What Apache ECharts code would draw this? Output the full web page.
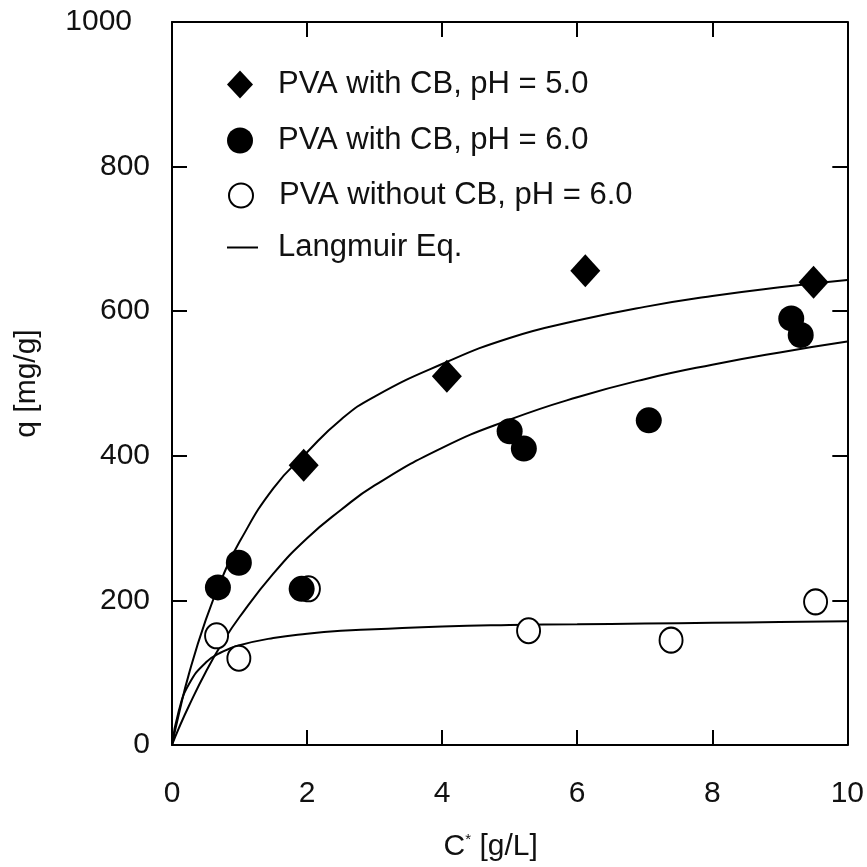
<!DOCTYPE html>
<html>
<head>
<meta charset="utf-8">
<script src="https://cdn.jsdelivr.net/npm/echarts@6/dist/echarts.min.js"></script>
<style>html,body{margin:0;padding:0;background:#fff}#c{width:867px;height:867px}</style>
</head>
<body>
<div id="c"></div>
<script>
// ---- data ----
const seriesNames = ['PVA with CB, pH = 5.0', 'PVA with CB, pH = 6.0', 'PVA without CB, pH = 6.0', 'Langmuir Eq.'];

const ph5X = [1.95, 4.07, 6.12, 9.50];
const ph5Q = [387, 510, 656, 640];

const ph6X = [0.68, 0.99, 1.92, 5.00, 5.21, 7.06, 9.17, 9.31];
const ph6Q = [218, 252, 216, 434, 410, 449, 590, 567];

const noCbX = [0.66, 0.99, 2.02, 5.28, 7.39, 9.53];
const noCbQ = [151, 120, 216, 158, 145, 198];

// Langmuir curves, read at these C* positions
const curveX    = [0, 0.1, 0.25, 0.5, 0.75, 1, 1.5, 2, 2.5, 3, 4, 5, 6, 7, 8, 9, 10];
const curvePh5  = [0, 42, 98, 173, 233, 281, 355, 405, 450, 482, 527, 563, 587, 606, 621, 633, 643];
const curvePh6  = [0, 23, 54, 101, 142, 177, 237, 286, 325, 359, 411, 450, 481, 506, 526, 543, 558];
const curveNoCb = [0, 47, 84, 114, 129, 138, 148, 154, 158, 160, 164, 166, 167, 168, 169, 170, 171];

const xMin = 0, xMax = 10, xStep = 2;
const yMin = 0, yMax = 1000, yStep = 200;

// ---- build ----
const pairs = (xs, ys) => xs.map((x, i) => [x, ys[i]]);
const FONT = '"Liberation Sans", Arial, Helvetica, sans-serif';
const INK = '#000';
const TXT = '#111';

const axisCommon = {
  type: 'value',
  axisLine: { show: true, onZero: false, lineStyle: { color: INK, width: 2 } },
  axisTick: { show: true, inside: true, length: 15, lineStyle: { color: INK, width: 2 } },
  splitLine: { show: false }
};

const lineSeries = (data) => ({
  type: 'line', name: seriesNames[3], data: data, showSymbol: false, symbol: 'none',
  smooth: 0.5,
  lineStyle: { color: INK, width: 2 }, itemStyle: { color: INK }, z: 2, silent: true
});

const legendRow = (item, top, w, h, pad, left) => ({
  data: [item], left: left, top: top, itemWidth: w, itemHeight: h, padding: 0,
  textStyle: { fontFamily: FONT, fontSize: 31, color: TXT, padding: [0, 0, 0, pad] },
  selectedMode: false
});

const option = {
  backgroundColor: '#fff',
  animation: false,
  grid: { left: 172, right: 15, top: 22, bottom: 119, containLabel: false },
  xAxis: [
    Object.assign({}, axisCommon, {
      min: xMin, max: xMax, interval: xStep, position: 'bottom',
      axisLabel: { show: true, fontFamily: FONT, fontSize: 30, color: TXT, margin: 34 },
      name: 'C{sup|*} [g/L]', nameLocation: 'middle', nameGap: 87,
      nameTextStyle: { fontFamily: FONT, fontSize: 30, color: TXT, padding: [0, 38, 0, 0],
        rich: { sup: { fontFamily: FONT, fontSize: 15, color: TXT, verticalAlign: 'top', padding: [0, 0, 10, 0] } } }
    }),
    Object.assign({}, axisCommon, {
      min: xMin, max: xMax, interval: xStep, position: 'top',
      axisLabel: { show: false }
    })
  ],
  yAxis: [
    Object.assign({}, axisCommon, {
      min: yMin, max: yMax, interval: yStep, position: 'left',
      axisLabel: { show: true, fontFamily: FONT, fontSize: 30, color: TXT, margin: 22,
        formatter: (v) => v === yMax ? '{top|' + v + '}' : String(v),
        rich: { top: { fontFamily: FONT, fontSize: 30, color: TXT, padding: [0, 18, 0, 0] } } },
      name: 'q [mg/g]', nameLocation: 'middle', nameGap: 130,
      nameTextStyle: { fontFamily: FONT, fontSize: 30, color: TXT }
    }),
    Object.assign({}, axisCommon, {
      min: yMin, max: yMax, interval: yStep, position: 'right',
      axisLabel: { show: false }
    })
  ],
  legend: [
    legendRow({ name: seriesNames[0], icon: 'diamond', itemStyle: { color: INK, opacity: 1 } }, 69, 26, 28, 20, 227),
    legendRow({ name: seriesNames[1], icon: 'circle', itemStyle: { color: INK, opacity: 1 } }, 125, 26, 26, 20, 227),
    legendRow({ name: seriesNames[2], icon: 'circle', itemStyle: { color: '#fff', borderColor: INK, borderWidth: 2, opacity: 1 } }, 180, 24, 24, 21, 228),
    legendRow({ name: seriesNames[3], icon: 'rect', itemStyle: { color: INK, opacity: 1 } }, 232, 31, 2, 15, 227)
  ],
  series: [
    {
      type: 'scatter', name: seriesNames[0], data: pairs(ph5X, ph5Q),
      symbol: 'diamond', symbolSize: [30, 33],
      itemStyle: { color: INK, opacity: 1 }, z: 5
    },
    {
      type: 'scatter', name: seriesNames[1], data: pairs(ph6X, ph6Q),
      symbol: 'circle', symbolSize: 26,
      itemStyle: { color: INK, opacity: 1 }, z: 5
    },
    {
      type: 'scatter', name: seriesNames[2], data: pairs(noCbX, noCbQ),
      symbol: 'circle', symbolSize: [23, 25],
      itemStyle: { color: '#fff', borderColor: INK, borderWidth: 2, opacity: 1 }, z: 4
    },
    lineSeries(pairs(curveX, curvePh5)),
    lineSeries(pairs(curveX, curvePh6)),
    lineSeries(pairs(curveX, curveNoCb))
  ]
};

const chart = echarts.init(document.getElementById('c'), null, { renderer: 'canvas' });
chart.setOption(option);
</script>
</body>
</html>
